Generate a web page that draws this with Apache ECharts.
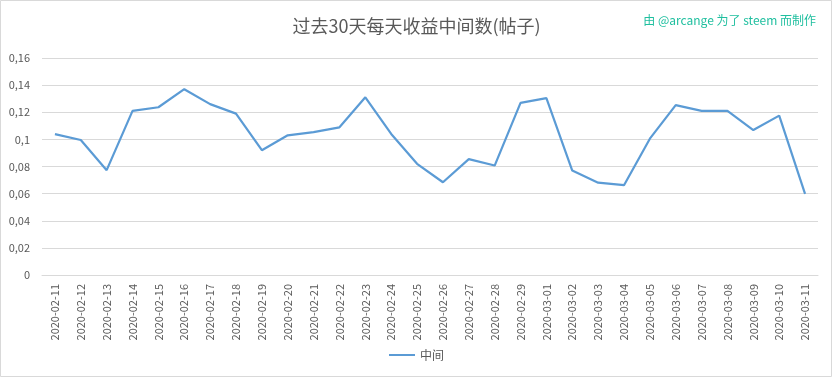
<!DOCTYPE html>
<html>
<head>
<meta charset="utf-8">
<script src="https://cdn.jsdelivr.net/npm/echarts@6/dist/echarts.min.js"></script>
<style>
html,body{margin:0;padding:0;background:#fff;}
#c{width:833px;height:378px;}
</style>
</head>
<body>
<div id="c"></div>
<script>
const categories = ["2020-02-11","2020-02-12","2020-02-13","2020-02-14","2020-02-15","2020-02-16","2020-02-17","2020-02-18","2020-02-19","2020-02-20","2020-02-21","2020-02-22","2020-02-23","2020-02-24","2020-02-25","2020-02-26","2020-02-27","2020-02-28","2020-02-29","2020-03-01","2020-03-02","2020-03-03","2020-03-04","2020-03-05","2020-03-06","2020-03-07","2020-03-08","2020-03-09","2020-03-10","2020-03-11"];
const medianValues = [0.1039,0.0995,0.0773,0.121,0.1237,0.137,0.126,0.119,0.092,0.103,0.1054,0.1089,0.131,0.104,0.082,0.0684,0.0854,0.0807,0.1269,0.1304,0.077,0.0681,0.0662,0.1005,0.1252,0.121,0.121,0.1069,0.1175,0.0598];
const seriesName = "中间";
const titleText = "过去30天每天收益中间数(帖子)";
const creditText = "由 @arcange 为了 steem 而制作";

const chart = echarts.init(document.getElementById('c'), null, {renderer:'canvas'});
const font = '"Noto Sans CJK SC", "Noto Sans", sans-serif';
chart.setOption({
  backgroundColor:'#fff',
  animation:false,
  textStyle:{fontFamily:font},
  title:[
    {text:titleText, left:'center', top:12, textStyle:{fontSize:18, fontWeight:'normal', color:'#595959', fontFamily:font}},
    {text:creditText, right:12, top:9, textStyle:{fontSize:12, fontWeight:'normal', color:'#1fbf9f', fontFamily:font}}
  ],
  legend:{
    bottom:12, left:'center',
    itemWidth:26, itemHeight:2, itemGap:4,
    icon:'rect',
    textStyle:{fontSize:12, color:'#595959', fontFamily:font},
    data:[{name:seriesName, icon:'rect'}]
  },
  grid:{left:42, right:15, top:58, bottom:103, containLabel:false},
  xAxis:{
    type:'category', data:categories, boundaryGap:true,
    axisLine:{show:true, lineStyle:{color:'#d9d9d9'}},
    axisTick:{show:false},
    axisLabel:{rotate:90, interval:0, fontSize:11, color:'#595959', margin:9, fontFamily:font}
  },
  yAxis:{
    type:'value', min:0, max:0.16, interval:0.02,
    axisLine:{show:false}, axisTick:{show:false},
    splitLine:{lineStyle:{color:'#d9d9d9'}},
    axisLabel:{fontSize:11, color:'#595959', margin:12, fontFamily:font,
      formatter:v=> v===0 ? '0' : String(+v.toFixed(2)).replace('.', ',')}
  },
  series:[{
    name:seriesName, type:'line', data:medianValues,
    symbol:'none', lineStyle:{color:'#5b9bd5', width:2.2}, itemStyle:{color:'#5b9bd5'}
  }],
  graphic:[{type:'rect', shape:{x:0.5,y:0.5,width:831,height:376}, style:{fill:'none', stroke:'#d9d9d9', lineWidth:1}, silent:true}]
});
</script>
</body>
</html>
